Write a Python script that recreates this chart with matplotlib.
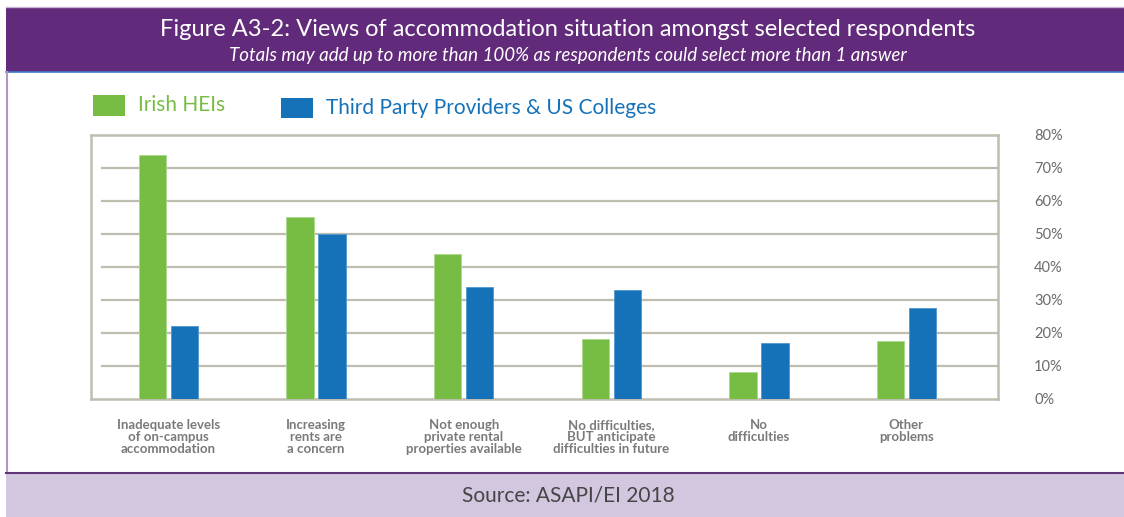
import numpy as np
import matplotlib
matplotlib.use("Agg")
import matplotlib.pyplot as plt
from matplotlib.patches import Rectangle
from matplotlib.lines import Line2D

plt.rcParams['font.family'] = ['Lato', 'DejaVu Sans']

categories = ["Inadequate levels\nof on-campus\naccommodation",
              "Increasing\nrents are\na concern",
              "Not enough\nprivate rental\nproperties available",
              "No difficulties,\nBUT anticipate\ndifficulties in future",
              "No\ndifficulties",
              "Other\nproblems"]
irish_heis = [74, 55, 44, 18, 8, 17.5]
third_party = [22, 50, 34, 33, 17, 27.5]
series_names = ["Irish HEIs", "Third Party Providers & US Colleges"]
yticks = [0, 10, 20, 30, 40, 50, 60, 70, 80]

green = "#77bd43"
blue = "#1572b9"
purple = "#622a7a"
grid_col = "#bfbdb0"

W, H = 1124, 517
fig = plt.figure(figsize=(W / 100, H / 100), dpi=100)

def fx(px):
    return px / W

def fy(py):
    return 1 - py / H

# banner, panel and footer
fig.patches.append(Rectangle((fx(6), fy(72)), 1, fy(7) - fy(72), transform=fig.transFigure,
                             facecolor=purple, edgecolor="none"))
fig.add_artist(Line2D([fx(6), 1], [fy(72), fy(72)], color="#3a7cc4", lw=1.2))
fig.add_artist(Line2D([fx(6), 1], [fy(7.3), fy(7.3)], color="#c9b6d6", lw=1))
fig.patches.append(Rectangle((fx(6), 0), 1, fy(473), transform=fig.transFigure,
                             facecolor="#d3c7df", edgecolor="none"))
fig.add_artist(Line2D([fx(6.7), fx(6.7)], [fy(72), fy(473)], color="#b395c4", lw=1.5))
fig.add_artist(Line2D([fx(6), 1], [fy(472.5), fy(472.5)], color="#5e3578", lw=1.5))

fig.text(fx(568), fy(30), "Figure A3-2: Views of accommodation situation amongst selected respondents",
         color="white", fontsize=17, ha="center", va="center")
fig.text(fx(568), fy(55.5), "Totals may add up to more than 100% as respondents could select more than 1 answer",
         color="white", fontsize=13.5, style="italic", ha="center", va="center")
fig.text(fx(568), fy(496), "Source: ASAPI/EI 2018", color="#454545", fontsize=15,
         ha="center", va="center")

# legend
fig.patches.append(Rectangle((fx(93), fy(115.7)), fx(32), fy(95) - fy(115.7),
                             transform=fig.transFigure, facecolor=green, edgecolor="none"))
fig.text(fx(138), fy(105), series_names[0], color=green, fontsize=15, ha="left", va="center")
fig.patches.append(Rectangle((fx(281), fy(118.3)), fx(32), fy(97.7) - fy(118.3),
                             transform=fig.transFigure, facecolor=blue, edgecolor="none"))
fig.text(fx(326), fy(108), series_names[1], color=blue, fontsize=15, ha="left", va="center")

ax = fig.add_axes([fx(91), fy(398.5), fx(998) - fx(91), fy(135) - fy(398.5)])
x = np.arange(len(categories))
w = 0.186
off = 0.108
ax.bar(x - off, irish_heis, w, color=green, edgecolor="#a9d98c", linewidth=0.6, zorder=3)
ax.bar(x + off, third_party, w, color=blue, edgecolor="#4f97d0", linewidth=0.6, zorder=3)

for t in yticks[1:-1]:
    ax.axhline(t, xmin=0.012, xmax=1, color=grid_col, lw=1.6, zorder=1)

ax.set_xlim(-0.525, 5.62)
ax.set_ylim(0, 80)
for s in ax.spines.values():
    s.set_color(grid_col)
    s.set_linewidth(1.8)

ax.yaxis.tick_right()
ax.set_yticks(yticks)
ax.set_yticklabels([f"{t}%" for t in yticks], color="#6a6a6a", fontsize=10.5)
ax.tick_params(axis="y", length=0, pad=26)
ax.set_xticks(x)
ax.set_xticklabels(categories, color="#7a7a7a", fontsize=9.5, fontweight="bold", linespacing=1.0)
ax.tick_params(axis="x", length=0, pad=15)

fig.savefig("out.png", dpi=100)
